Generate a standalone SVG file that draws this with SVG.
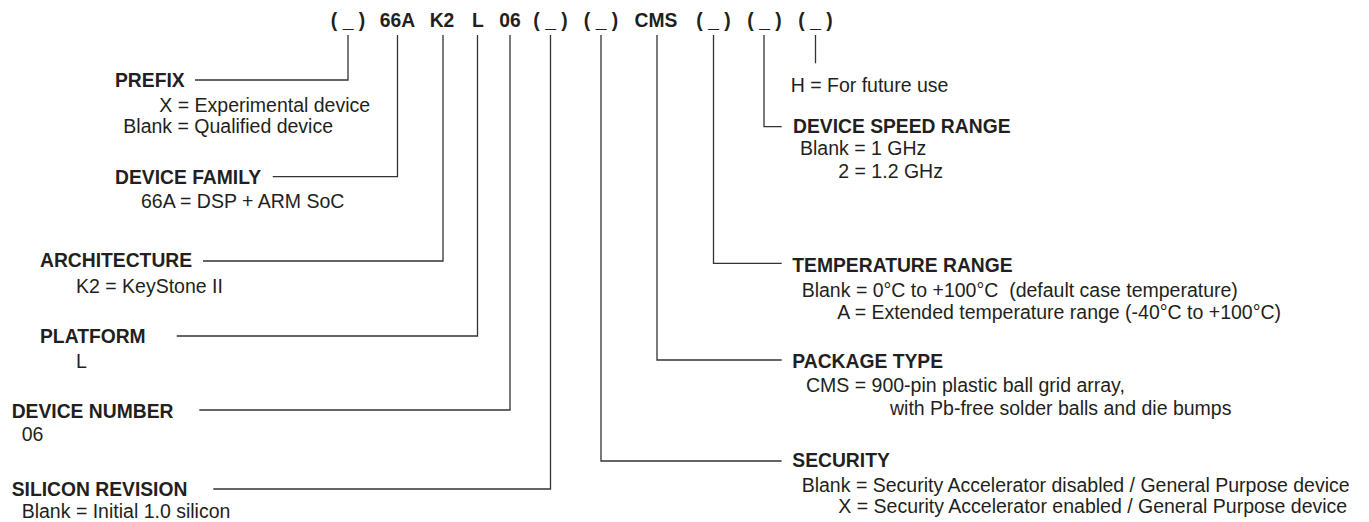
<svg xmlns="http://www.w3.org/2000/svg" width="1369" height="522" viewBox="0 0 1369 522">
<style>
text{font-family:"Liberation Sans",Arial,Helvetica,sans-serif;fill:#231f20}
.b{font-weight:bold;font-size:19.3px}
.r{font-size:19.5px}
.c{font-weight:bold;font-size:19.3px;text-anchor:middle}
.ln{fill:none;stroke:#333;stroke-width:1.3}
</style>
<rect width="1369" height="522" fill="#fff"/>
<g id="code">
<text class="c" x="348" y="27">( _ )</text>
<text class="c" x="397.5" y="27">66A</text>
<text class="c" x="442" y="27">K2</text>
<text class="c" x="478" y="27">L</text>
<text class="c" x="510" y="27">06</text>
<text class="c" x="550.5" y="27">( _ )</text>
<text class="c" x="601" y="27">( _ )</text>
<text class="c" x="656" y="27">CMS</text>
<text class="c" x="713.5" y="27">( _ )</text>
<text class="c" x="764.5" y="27">( _ )</text>
<text class="c" x="815.5" y="27">( _ )</text>
</g>
<g id="connectors">
<polyline class="ln" points="348,35 348,80 195,80"/>
<polyline class="ln" points="397.5,35 397.5,176.7 272.7,176.7"/>
<polyline class="ln" points="443,35 443,261 203,261"/>
<polyline class="ln" points="477.5,35 477.5,336 176.7,336"/>
<polyline class="ln" points="510,35 510,410 199.3,410"/>
<polyline class="ln" points="550.5,35 550.5,489 213.3,489"/>
<polyline class="ln" points="601,35 601,461 781.7,461"/>
<polyline class="ln" points="657,35 657,360 781.7,360"/>
<polyline class="ln" points="713.5,35 713.5,263.3 781.7,263.3"/>
<polyline class="ln" points="764,35 764,126.7 781.7,126.7"/>
<polyline class="ln" points="815.5,35 815.5,63.3"/>
</g>
<g id="prefix">
<text class="b" x="115" y="86.7">PREFIX</text>
<text class="r" x="159.3" y="111.7">X = Experimental device</text>
<text class="r" x="123.3" y="132.7">Blank = Qualified device</text>
</g>
<g id="device-family">
<text class="b" x="115" y="184.3">DEVICE FAMILY</text>
<text class="r" x="141" y="208">66A = DSP + ARM SoC</text>
</g>
<g id="architecture">
<text class="b" x="40" y="267.3">ARCHITECTURE</text>
<text class="r" x="76" y="293.3">K2 = KeyStone II</text>
</g>
<g id="platform">
<text class="b" x="40" y="342.7">PLATFORM</text>
<text class="r" x="76" y="367.7">L</text>
</g>
<g id="device-number">
<text class="b" x="11.7" y="417.7">DEVICE NUMBER</text>
<text class="r" x="21.7" y="440.7">06</text>
</g>
<g id="silicon-revision">
<text class="b" x="11.7" y="495.7">SILICON REVISION</text>
<text class="r" x="21.7" y="518.3">Blank = Initial 1.0 silicon</text>
</g>
<g id="future-use">
<text class="r" x="790.7" y="91.7">H = For future use</text>
</g>
<g id="device-speed-range">
<text class="b" x="793" y="132.7">DEVICE SPEED RANGE</text>
<text class="r" x="800" y="155">Blank = 1 GHz</text>
<text class="r" x="838.3" y="178.3">2 = 1.2 GHz</text>
</g>
<g id="temperature-range">
<text class="b" x="792.3" y="271.7">TEMPERATURE RANGE</text>
<text class="r" x="801.7" y="296.7" xml:space="preserve">Blank = 0°C to +100°C  (default case temperature)</text>
<text class="r" x="837.3" y="319">A = Extended temperature range (-40°C to +100°C)</text>
</g>
<g id="package-type">
<text class="b" x="792.3" y="368.3">PACKAGE TYPE</text>
<text class="r" x="806" y="392.3">CMS = 900-pin plastic ball grid array,</text>
<text class="r" x="890" y="415">with Pb-free solder balls and die bumps</text>
</g>
<g id="security">
<text class="b" x="792.3" y="467">SECURITY</text>
<text class="r" x="801.7" y="491.7">Blank = Security Accelerator disabled / General Purpose device</text>
<text class="r" x="838.3" y="513.3">X = Security Accelerator enabled / General Purpose device</text>
</g>
</svg>
